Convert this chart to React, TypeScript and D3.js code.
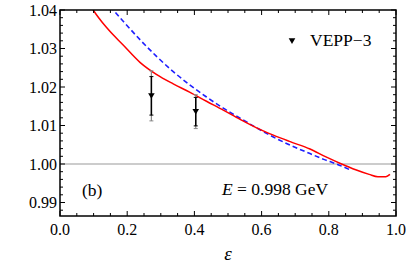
import React from "react";
import * as d3 from "d3";

// solid red curve (eps, ratio)
const redEps = [0.09, 0.099, 0.14, 0.188, 0.238, 0.288, 0.337, 0.387, 0.436, 0.486, 0.536, 0.585, 0.635, 0.685, 0.744, 0.79, 0.838, 0.88, 0.92, 0.946, 0.97, 0.982];
const redVal = [1.0413, 1.04, 1.0353, 1.0309, 1.0264, 1.0232, 1.0208, 1.0186, 1.0163, 1.014, 1.0116, 1.0094, 1.0075, 1.0058, 1.0039, 1.0019, 1.0, 0.9985, 0.9973, 0.9967, 0.9967, 0.9973];

// dashed blue curve
const blueEps = [0.15, 0.159, 0.188, 0.238, 0.288, 0.337, 0.387, 0.436, 0.486, 0.536, 0.585, 0.635, 0.685, 0.744, 0.785, 0.823, 0.863];
const blueVal = [1.041, 1.04, 1.0371, 1.0323, 1.0279, 1.024, 1.0205, 1.0174, 1.0145, 1.0119, 1.0094, 1.007, 1.0049, 1.0027, 1.0012, 1.0, 0.9985];

// VEPP-3 points
const veppEps = [0.272, 0.404];
const veppVal = [1.0177, 1.0136];
const veppStat = [0.005, 0.0037];
const veppTot = [0.0065, 0.0044];

const xTicks = [0, 0.2, 0.4, 0.6, 0.8, 1.0];
const yTicks = [0.99, 1.0, 1.01, 1.02, 1.03, 1.04];

export default function App() {
  const W = 407, H = 267;
  const left = 60, right = 396, top = 10, bottom = 216;
  const x = d3.scaleLinear().domain([0, 1]).range([left, right]);
  const y = d3.scaleLinear().domain([0.99, 1.04]).range([202.5, top]);
  const yMin = y.invert(bottom);

  const line = d3.line<[number, number]>().x(d => x(d[0])).y(d => y(d[1])).curve(d3.curveMonotoneX);
  const redPath = line(redEps.map((e, i) => [e, redVal[i]] as [number, number])) || "";
  const bluePath = line(blueEps.map((e, i) => [e, blueVal[i]] as [number, number])) || "";

  const xMinor = d3.range(0, 1.0001, 0.05);
  const yMinor = d3.range(Math.ceil(yMin / 0.002) * 0.002, 1.0401, 0.002);
  const font = "'Liberation Serif', 'Times New Roman', serif";

  const tri = (cx: number, cy: number, s: number) =>
    `M${cx - s},${cy - s * 0.8}L${cx + s},${cy - s * 0.8}L${cx},${cy + s * 0.9}Z`;

  return (
    <svg width={W} height={H} style={{ position: "absolute", left: 0, top: 0 }} fontFamily={font}>
      <defs>
        <clipPath id="plot">
          <rect x={left} y={top} width={right - left} height={bottom - top} />
        </clipPath>
      </defs>
      <rect width={W} height={H} fill="white" />
      <g clipPath="url(#plot)">
        <line x1={left} x2={right} y1={y(1.0)} y2={y(1.0)} stroke="#999" strokeWidth={1} />
        <path d={bluePath} fill="none" stroke="#1f1fff" strokeWidth={1.6} strokeDasharray="5,3" />
        <path d={redPath} fill="none" stroke="#ff0000" strokeWidth={1.5} />
        {veppEps.map((e, i) => {
          const cx = x(e);
          return (
            <g key={i}>
              <line x1={cx} x2={cx} y1={y(veppVal[i] + veppTot[i])} y2={y(veppVal[i] - veppTot[i])} stroke="#888" strokeWidth={1.2} />
              <line x1={cx - 2} x2={cx + 2} y1={y(veppVal[i] + veppTot[i])} y2={y(veppVal[i] + veppTot[i])} stroke="#888" strokeWidth={1} />
              <line x1={cx - 2} x2={cx + 2} y1={y(veppVal[i] - veppTot[i])} y2={y(veppVal[i] - veppTot[i])} stroke="#888" strokeWidth={1} />
              <line x1={cx} x2={cx} y1={y(veppVal[i] + veppStat[i])} y2={y(veppVal[i] - veppStat[i])} stroke="#000" strokeWidth={1.5} />
              <line x1={cx - 2} x2={cx + 2} y1={y(veppVal[i] + veppStat[i])} y2={y(veppVal[i] + veppStat[i])} stroke="#000" strokeWidth={1} />
              <line x1={cx - 2} x2={cx + 2} y1={y(veppVal[i] - veppStat[i])} y2={y(veppVal[i] - veppStat[i])} stroke="#000" strokeWidth={1} />
              <path d={tri(cx, y(veppVal[i]), 3.3)} fill="#000" />
            </g>
          );
        })}
      </g>

      {/* frame */}
      <rect x={left} y={top} width={right - left} height={bottom - top} fill="none" stroke="#000" strokeWidth={1.5} />
      {xMinor.map((t, i) => {
        const major = Math.abs(t * 5 - Math.round(t * 5)) < 1e-6;
        const len = major ? 5 : 3;
        return (
          <g key={"xt" + i} stroke="#000" strokeWidth={1}>
            <line x1={x(t)} x2={x(t)} y1={bottom} y2={bottom - len} />
            <line x1={x(t)} x2={x(t)} y1={top} y2={top + len} />
          </g>
        );
      })}
      {yMinor.map((t, i) => {
        const major = Math.abs(t * 100 - Math.round(t * 100)) < 1e-6;
        const len = major ? 5 : 3;
        return (
          <g key={"yt" + i} stroke="#000" strokeWidth={1}>
            <line x1={left} x2={left + len} y1={y(t)} y2={y(t)} />
            <line x1={right} x2={right - len} y1={y(t)} y2={y(t)} />
          </g>
        );
      })}
      {xTicks.map((t, i) => (
        <text key={"xl" + i} x={x(t)} y={235} fontSize={16} textAnchor="middle">{d3.format(".1f")(t)}</text>
      ))}
      {yTicks.map((t, i) => (
        <text key={"yl" + i} x={57} y={y(t)} dy="0.35em" fontSize={16} textAnchor="end">{d3.format(".2f")(t)}</text>
      ))}
      <text x={x(0.5)} y={260} fontSize={19} fontStyle="italic" textAnchor="middle">ε</text>

      {/* legend */}
      <path d={tri(292, 41, 3.3)} fill="#000" />
      <text x={310} y={46} fontSize={17.5}>VEPP−3</text>

      <text x={82} y={196} fontSize={17.5}>(b)</text>
      <text x={222} y={195} fontSize={17.5}>
        <tspan fontStyle="italic">E</tspan> = 0.998 GeV
      </text>
    </svg>
  );
}
